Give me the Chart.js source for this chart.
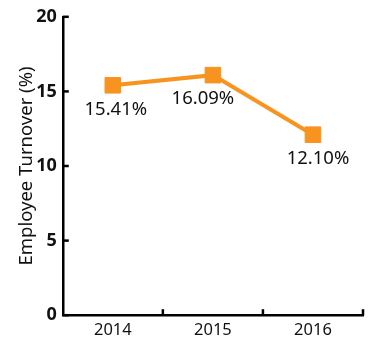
<!DOCTYPE html>
<html>
<head>
<meta charset="utf-8">
<script src="https://cdn.jsdelivr.net/npm/chart.js@4/dist/chart.umd.min.js"></script>
<style>
  html, body { margin: 0; padding: 0; background: #fff; }
  #wrap { width: 371px; height: 344px; }
</style>
</head>
<body>
<div id="wrap"><canvas id="turnoverChart"></canvas></div>
<script>
const years = ["2014", "2015", "2016"];
const turnover = [15.41, 16.09, 12.10];
const yTicks = [0, 5, 10, 15, 20];

const orange = "#f7931e";
// sideways nudge for each value label so it clears the line
const labelShift = [3, -10, 5];

// short tick marks drawn inside the plot, plus value labels under each point
const axisExtras = {
  id: "axisExtras",
  afterDatasetsDraw(chart) {
    const ctx = chart.ctx;
    const xs = chart.scales.x;
    const ys = chart.scales.y;
    const area = chart.chartArea;

    ctx.save();
    ctx.strokeStyle = "#000";
    ctx.lineWidth = 2.5;
    yTicks.forEach((v) => {
      const y = ys.getPixelForValue(v);
      ctx.beginPath();
      ctx.moveTo(area.left, y);
      ctx.lineTo(area.left + 6, y);
      ctx.stroke();
    });
    for (let i = 0; i < years.length; i++) {
      const x = i < years.length - 1
        ? (xs.getPixelForValue(i) + xs.getPixelForValue(i + 1)) / 2
        : area.right;
      ctx.beginPath();
      ctx.moveTo(x, area.bottom);
      ctx.lineTo(x, area.bottom - 6);
      ctx.stroke();
    }

    const meta = chart.getDatasetMeta(0);
    ctx.fillStyle = "#111";
    ctx.font = "18.5px 'Noto Sans'";
    ctx.textAlign = "center";
    ctx.textBaseline = "middle";
    meta.data.forEach((pt, i) => {
      ctx.fillText(turnover[i].toFixed(2) + "%", pt.x + labelShift[i], pt.y + 24);
    });
    ctx.restore();
  },
};

new Chart(document.getElementById("turnoverChart"), {
  type: "line",
  data: {
    labels: years,
    datasets: [
      {
        data: turnover,
        borderColor: orange,
        backgroundColor: orange,
        borderWidth: 4,
        pointStyle: "rect",
        pointRadius: 11,
        pointHoverRadius: 11,
        pointBorderWidth: 1,
        tension: 0,
      },
    ],
  },
  options: {
    responsive: true,
    maintainAspectRatio: false,
    animation: false,
    layout: {
      autoPadding: false,
      padding: { top: 14.5, right: 8, left: 16, bottom: -1 },
    },
    plugins: {
      legend: { display: false },
      tooltip: { enabled: false },
    },
    scales: {
      x: {
        offset: true,
        grid: { display: false, offset: true, drawTicks: false },
        border: { display: true, color: "#000", width: 2.5 },
        ticks: {
          color: "#111",
          font: { family: "Noto Sans", size: 16.5 },
          padding: 5,
        },
      },
      y: {
        min: 0,
        max: 20,
        afterBuildTicks(scale) {
          scale.ticks = yTicks.map((v) => ({ value: v }));
        },
        grid: { display: false, drawTicks: false },
        border: { display: true, color: "#000", width: 2.5 },
        ticks: {
          color: "#111",
          font: { family: "Noto Sans", size: 18, weight: "bold" },
          padding: 6,
        },
        title: {
          display: true,
          text: "Employee Turnover (%)",
          color: "#111",
          font: { family: "Noto Sans", size: 18.5 },
          padding: { top: 0, bottom: -8 },
        },
      },
    },
  },
  plugins: [axisExtras],
});
</script>
</body>
</html>
